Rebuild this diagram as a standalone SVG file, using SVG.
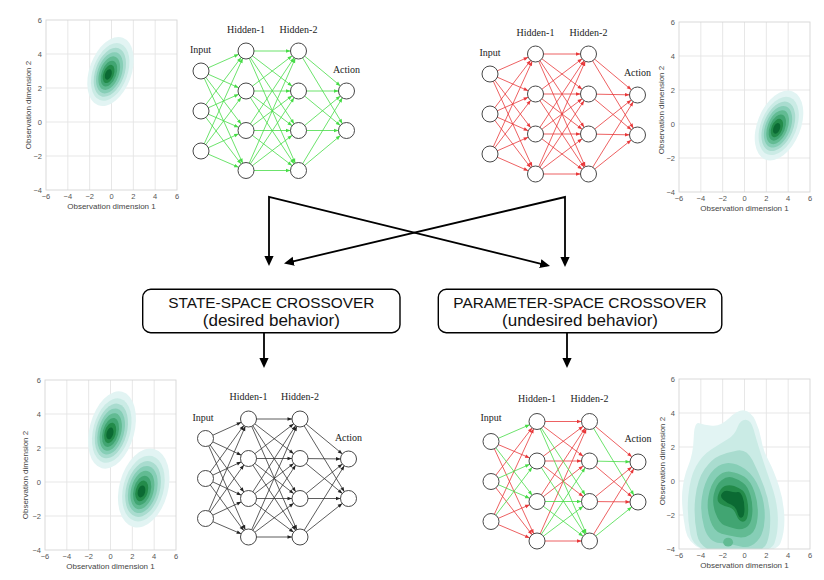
<svg xmlns="http://www.w3.org/2000/svg" xmlns:xlink="http://www.w3.org/1999/xlink" width="824" height="580" viewBox="0 0 824 580">
<style>
.tky{font-family:"Liberation Sans",Arial,sans-serif;font-size:7.5px;fill:#555;text-anchor:end}
.tkx{font-family:"Liberation Sans",Arial,sans-serif;font-size:7.5px;fill:#555;text-anchor:middle}
.ttl{font-family:"Liberation Sans",Arial,sans-serif;font-size:8px;fill:#444;text-anchor:middle}
.nl{font-family:"Liberation Serif","Times New Roman",serif;font-size:10px;fill:#222;text-anchor:middle}
.bx{fill:#fff;stroke:#000;stroke-width:1.4}
.bt1{font-family:"Liberation Sans",Arial,sans-serif;font-size:15.4px;text-anchor:middle;fill:#111}
.bt2{font-family:"Liberation Sans",Arial,sans-serif;font-size:17px;text-anchor:middle;fill:#111}
.grid line{stroke:#e4e4e4;stroke-width:.9}
.frame{fill:none;stroke:#d6d6d6;stroke-width:.9}
.eg line{stroke:#46dc46;stroke-width:.8;marker-end:url(#mg)}
.er line{stroke:#e8383a;stroke-width:.8;marker-end:url(#mr)}
.ek line{stroke:#333;stroke-width:.8;marker-end:url(#mk)}
.nd circle{fill:#fff;stroke:#333;stroke-width:.9}
.cn{fill:none;stroke:#000;stroke-width:1.8}
.l0{fill:#e2f4f3}.l1{fill:#caebe5}.l2{fill:#a9dccf}.l3{fill:#86ceb6}
.l4{fill:#62bb93}.l5{fill:#41a572}.l6{fill:#238b4a}.l7{fill:#0b6a33}
</style>
<defs>
<marker id="mg" viewBox="0 -3 14 6" markerWidth="14" markerHeight="6" refX="13" refY="0" orient="auto" markerUnits="userSpaceOnUse"><path d="M0.5,-1.8L5,0L0.5,1.8z" fill="#46dc46"/></marker>
<marker id="mr" viewBox="0 -3 14 6" markerWidth="14" markerHeight="6" refX="13" refY="0" orient="auto" markerUnits="userSpaceOnUse"><path d="M0.5,-1.8L5,0L0.5,1.8z" fill="#e8383a"/></marker>
<marker id="mk" viewBox="0 -3 14 6" markerWidth="14" markerHeight="6" refX="13" refY="0" orient="auto" markerUnits="userSpaceOnUse"><path d="M0.5,-1.8L5,0L0.5,1.8z" fill="#222"/></marker>
<marker id="ma" viewBox="0 -5 10 10" markerWidth="10" markerHeight="10" refX="7" refY="0" orient="auto-start-reverse" markerUnits="userSpaceOnUse"><path d="M0,-4.6L10,0L0,4.6z" fill="#000"/></marker>
<clipPath id="clipP"><rect width="131" height="170"/></clipPath>
<g id="grid" class="grid">
<rect width="131" height="170" fill="#fff"/>
<line x1="21.83" y1="0" x2="21.83" y2="170"/><line x1="43.67" y1="0" x2="43.67" y2="170"/><line x1="65.5" y1="0" x2="65.5" y2="170"/><line x1="87.33" y1="0" x2="87.33" y2="170"/><line x1="109.17" y1="0" x2="109.17" y2="170"/>
<line x1="0" y1="34" x2="131" y2="34"/><line x1="0" y1="68" x2="131" y2="68"/><line x1="0" y1="102" x2="131" y2="102"/><line x1="0" y1="136" x2="131" y2="136"/>
</g>
<ellipse id="k0" class="l0" cx="0" cy="0" rx="20" ry="36"/>
<ellipse id="k1" class="l1" cx="-0.1" cy="0.5" rx="16.5" ry="30"/>
<ellipse id="k2" class="l2" cx="-0.3" cy="1" rx="13.8" ry="25.5"/>
<ellipse id="k3" class="l3" cx="-0.4" cy="1.5" rx="11.5" ry="21.5"/>
<ellipse id="k4" class="l4" cx="-0.6" cy="2" rx="9.2" ry="17.5"/>
<ellipse id="k5" class="l5" cx="-0.7" cy="2.5" rx="7" ry="13.5"/>
<ellipse id="k6" class="l6" cx="-0.9" cy="3" rx="5" ry="9.5"/>
<ellipse id="k7" class="l7" cx="-1" cy="3.5" rx="3" ry="5.5"/>
<g id="kde"><use href="#k0"/><use href="#k1"/><use href="#k2"/><use href="#k3"/><use href="#k4"/><use href="#k5"/><use href="#k6"/><use href="#k7"/></g>
</defs>
<rect width="824" height="580" fill="#fff"/>

<!-- Top-left plot -->
<g id="plot-tl" transform="translate(46,20)">
<use href="#grid"/>
<use href="#kde" transform="translate(64.5,51.5) rotate(20) scale(1.05,1)"/>
<rect class="frame" width="131" height="170"/>
<text class="tky" x="-4" y="2.7">6</text><text class="tky" x="-4" y="36.7">4</text><text class="tky" x="-4" y="70.7">2</text><text class="tky" x="-4" y="104.7">0</text><text class="tky" x="-4" y="138.7">−2</text><text class="tky" x="-4" y="172.7">−4</text>
<text class="tkx" x="0" y="179">−6</text><text class="tkx" x="21.8" y="179">−4</text><text class="tkx" x="43.7" y="179">−2</text><text class="tkx" x="65.5" y="179">0</text><text class="tkx" x="87.3" y="179">2</text><text class="tkx" x="109.2" y="179">4</text><text class="tkx" x="131" y="179">6</text>
<text class="ttl" x="65.5" y="188.5">Observation dimension 1</text>
<text class="ttl" transform="translate(-15,85) rotate(-90)">Observation dimension 2</text>
</g>

<!-- Top-right plot -->
<g id="plot-tr" transform="translate(679,22)">
<use href="#grid"/>
<use href="#kde" transform="translate(100,103.5) rotate(22) scale(1.08,1.02)"/>
<rect class="frame" width="131" height="170"/>
<text class="tky" x="-4" y="2.7">6</text><text class="tky" x="-4" y="36.7">4</text><text class="tky" x="-4" y="70.7">2</text><text class="tky" x="-4" y="104.7">0</text><text class="tky" x="-4" y="138.7">−2</text><text class="tky" x="-4" y="172.7">−4</text>
<text class="tkx" x="0" y="179">−6</text><text class="tkx" x="21.8" y="179">−4</text><text class="tkx" x="43.7" y="179">−2</text><text class="tkx" x="65.5" y="179">0</text><text class="tkx" x="87.3" y="179">2</text><text class="tkx" x="109.2" y="179">4</text><text class="tkx" x="131" y="179">6</text>
<text class="ttl" x="65.5" y="188.5">Observation dimension 1</text>
<text class="ttl" transform="translate(-15,88) rotate(-90)">Observation dimension 2</text>
</g>

<!-- Bottom-left plot -->
<g id="plot-bl" transform="translate(45,380)">
<use href="#grid"/>
<use href="#k0" transform="translate(67,50) rotate(15) scale(1.12,1.1)"/><use href="#k0" transform="translate(98.7,108) rotate(15) scale(1.22,1.12)"/>
<use href="#k1" transform="translate(67,50) rotate(15) scale(1.12,1.1)"/><use href="#k1" transform="translate(98.7,108) rotate(15) scale(1.22,1.12)"/>
<use href="#k2" transform="translate(67,50) rotate(15) scale(1.12,1.1)"/><use href="#k2" transform="translate(98.7,108) rotate(15) scale(1.22,1.12)"/>
<use href="#k3" transform="translate(67,50) rotate(15) scale(1.12,1.1)"/><use href="#k3" transform="translate(98.7,108) rotate(15) scale(1.22,1.12)"/>
<use href="#k4" transform="translate(67,50) rotate(15) scale(1.12,1.1)"/><use href="#k4" transform="translate(98.7,108) rotate(15) scale(1.22,1.12)"/>
<use href="#k5" transform="translate(67,50) rotate(15) scale(1.12,1.1)"/><use href="#k5" transform="translate(98.7,108) rotate(15) scale(1.22,1.12)"/>
<use href="#k6" transform="translate(67,50) rotate(15) scale(1.12,1.1)"/><use href="#k6" transform="translate(98.7,108) rotate(15) scale(1.22,1.12)"/>
<use href="#k7" transform="translate(67,50) rotate(15) scale(1.12,1.1)"/><use href="#k7" transform="translate(98.7,108) rotate(15) scale(1.22,1.12)"/>
<rect class="frame" width="131" height="170"/>
<text class="tky" x="-4" y="2.7">6</text><text class="tky" x="-4" y="36.7">4</text><text class="tky" x="-4" y="70.7">2</text><text class="tky" x="-4" y="104.7">0</text><text class="tky" x="-4" y="138.7">−2</text><text class="tky" x="-4" y="172.7">−4</text>
<text class="tkx" x="0" y="179">−6</text><text class="tkx" x="21.8" y="179">−4</text><text class="tkx" x="43.7" y="179">−2</text><text class="tkx" x="65.5" y="179">0</text><text class="tkx" x="87.3" y="179">2</text><text class="tkx" x="109.2" y="179">4</text><text class="tkx" x="131" y="179">6</text>
<text class="ttl" x="65.5" y="189">Observation dimension 1</text>
<text class="ttl" transform="translate(-17,95) rotate(-90)">Observation dimension 2</text>
</g>

<!-- Bottom-right plot -->
<g id="plot-br" transform="translate(679,379)">
<use href="#grid"/>
<g clip-path="url(#clipP)">
<g transform="translate(65.5,102) scale(10.92,-17)">
<path class="l0" d="M-1.05,-4.3Q-5,-4.3 -5.4,-2.9Q-5.8,-1.5 -5.7,-0.65Q-5.6,0.2 -5.15,0.9Q-4.7,1.6 -4.65,2.55Q-4.6,3.5 -4.15,3.4Q-3.7,3.3 -2.95,3.25Q-2.2,3.2 -1.4,3.7Q-0.6,4.2 0,4.15Q0.6,4.1 1,3.55Q1.4,3 1.55,2.4Q1.7,1.8 2.2,1.2Q2.7,0.6 3.15,-0.3Q3.6,-1.2 3.65,-2.1Q3.7,-3 3.3,-3.65Q2.9,-4.3 -1.05,-4.3Z"/>
<path class="l1" d="M-1.1,-4.3Q-4.6,-4.3 -4.95,-3.15Q-5.3,-2 -5.15,-0.9Q-5,0.2 -4.45,0.85Q-3.9,1.5 -3.05,1.85Q-2.2,2.2 -1.55,2.45Q-0.9,2.7 -0.65,3.15Q-0.4,3.6 0.1,3.6Q0.6,3.6 0.85,3Q1.1,2.4 1.5,1.6Q1.9,0.8 2.45,-0.2Q3,-1.2 3.05,-2.1Q3.1,-3 2.75,-3.65Q2.4,-4.3 -1.1,-4.3Z"/>
<path class="l2" d="M-1.15,-4.3Q-4,-4.3 -4.35,-3.15Q-4.7,-2 -4.5,-0.95Q-4.3,0.1 -3.65,0.7Q-3,1.3 -2.25,1.5Q-1.5,1.7 -0.65,1.8Q0.2,1.9 0.75,1.2Q1.3,0.5 1.8,-0.35Q2.3,-1.2 2.35,-2.1Q2.4,-3 2.05,-3.65Q1.7,-4.3 -1.15,-4.3Z"/>
<path class="l3" d="M-2.25,-3.65Q-3.3,-3.6 -3.7,-2.7Q-4.1,-1.8 -3.9,-0.95Q-3.7,-0.1 -3.1,0.45Q-2.5,1 -1.65,1.05Q-0.8,1.1 0.05,0.7Q0.9,0.3 1.4,-0.5Q1.9,-1.3 1.85,-2.2Q1.8,-3.1 1.15,-3.55Q0.5,-4 -0.35,-3.85Q-1.2,-3.7 -2.25,-3.65Z"/>
<ellipse class="l4" cx="-1.5" cy="-3.6" rx="0.45" ry="0.26"/>
<path class="l4" d="M-2.1,-3.1Q-2.8,-3 -3.15,-2.3Q-3.5,-1.6 -3.3,-0.9Q-3.1,-0.2 -2.55,0.2Q-2,0.6 -1.3,0.55Q-0.6,0.5 0,0.25Q0.6,0 0.95,-0.7Q1.3,-1.4 1.2,-2.15Q1.1,-2.9 0.55,-3.15Q0,-3.4 -0.7,-3.3Q-1.4,-3.2 -2.1,-3.1Z"/>
<path class="l5" d="M-1.85,-2.6Q-2.3,-2.5 -2.65,-1.9Q-3,-1.3 -2.8,-0.75Q-2.6,-0.2 -2.1,0.05Q-1.6,0.3 -1.1,0.2Q-0.6,0.1 -0.15,-0.1Q0.3,-0.3 0.55,-0.85Q0.8,-1.4 0.7,-2Q0.6,-2.6 0.1,-2.75Q-0.4,-2.9 -0.9,-2.8Q-1.4,-2.7 -1.85,-2.6Z"/>
<path class="l6" d="M-2.2,-1.35Q-2.6,-1.2 -2.4,-0.8Q-2.2,-0.4 -1.8,-0.3Q-1.4,-0.2 -0.95,-0.3Q-0.5,-0.4 -0.2,-0.55Q0.1,-0.7 0.25,-1.15Q0.4,-1.6 0.3,-2Q0.2,-2.4 -0.15,-2.4Q-0.5,-2.4 -0.75,-2Q-1,-1.6 -1.4,-1.55Q-1.8,-1.5 -2.2,-1.35Z"/>
<path class="l7" d="M-1.95,-1.1Q-2.3,-0.9 -2.05,-0.7Q-1.8,-0.5 -1.35,-0.6Q-0.9,-0.7 -0.65,-0.65Q-0.4,-0.6 -0.2,-0.9Q0,-1.2 0,-1.65Q0,-2.1 -0.25,-2.15Q-0.5,-2.2 -0.65,-1.85Q-0.8,-1.5 -1.2,-1.4Q-1.6,-1.3 -1.95,-1.1Z"/>
</g>
</g>
<rect class="frame" width="131" height="170"/>
<text class="tky" x="-4" y="2.7">6</text><text class="tky" x="-4" y="36.7">4</text><text class="tky" x="-4" y="70.7">2</text><text class="tky" x="-4" y="104.7">0</text><text class="tky" x="-4" y="138.7">−2</text><text class="tky" x="-4" y="172.7">−4</text>
<text class="tkx" x="0" y="179">−6</text><text class="tkx" x="21.8" y="179">−4</text><text class="tkx" x="43.7" y="179">−2</text><text class="tkx" x="65.5" y="179">0</text><text class="tkx" x="87.3" y="179">2</text><text class="tkx" x="109.2" y="179">4</text><text class="tkx" x="131" y="179">6</text>
<text class="ttl" x="65.5" y="189">Observation dimension 1</text>
<text class="ttl" transform="translate(-14.5,82) rotate(-90)">Observation dimension 2</text>
</g>

<!-- Top-left network (green) -->
<g id="net-tl">
<text class="nl" x="200.5" y="53">Input</text><text class="nl" x="246" y="32.5">Hidden-1</text><text class="nl" x="298.5" y="32.5">Hidden-2</text><text class="nl" x="346.5" y="73">Action</text>
<g class="eg">
<line x1="201" y1="71" x2="246" y2="51"/><line x1="201" y1="71" x2="246" y2="91"/><line x1="201" y1="71" x2="246" y2="130.5"/><line x1="201" y1="71" x2="246" y2="170.5"/>
<line x1="201" y1="111" x2="246" y2="51"/><line x1="201" y1="111" x2="246" y2="91"/><line x1="201" y1="111" x2="246" y2="130.5"/><line x1="201" y1="111" x2="246" y2="170.5"/>
<line x1="201" y1="151" x2="246" y2="51"/><line x1="201" y1="151" x2="246" y2="91"/><line x1="201" y1="151" x2="246" y2="130.5"/><line x1="201" y1="151" x2="246" y2="170.5"/>
<line x1="246" y1="51" x2="298.5" y2="51"/><line x1="246" y1="51" x2="298.5" y2="91"/><line x1="246" y1="51" x2="298.5" y2="130.5"/><line x1="246" y1="51" x2="298.5" y2="170.5"/>
<line x1="246" y1="91" x2="298.5" y2="51"/><line x1="246" y1="91" x2="298.5" y2="91"/><line x1="246" y1="91" x2="298.5" y2="130.5"/><line x1="246" y1="91" x2="298.5" y2="170.5"/>
<line x1="246" y1="130.5" x2="298.5" y2="51"/><line x1="246" y1="130.5" x2="298.5" y2="91"/><line x1="246" y1="130.5" x2="298.5" y2="130.5"/><line x1="246" y1="130.5" x2="298.5" y2="170.5"/>
<line x1="246" y1="170.5" x2="298.5" y2="51"/><line x1="246" y1="170.5" x2="298.5" y2="91"/><line x1="246" y1="170.5" x2="298.5" y2="130.5"/><line x1="246" y1="170.5" x2="298.5" y2="170.5"/>
<line x1="298.5" y1="51" x2="346.5" y2="91"/><line x1="298.5" y1="51" x2="346.5" y2="130.5"/>
<line x1="298.5" y1="91" x2="346.5" y2="91"/><line x1="298.5" y1="91" x2="346.5" y2="130.5"/>
<line x1="298.5" y1="130.5" x2="346.5" y2="91"/><line x1="298.5" y1="130.5" x2="346.5" y2="130.5"/>
<line x1="298.5" y1="170.5" x2="346.5" y2="91"/><line x1="298.5" y1="170.5" x2="346.5" y2="130.5"/>
</g>
<g class="nd">
<circle cx="201" cy="71" r="8"/><circle cx="201" cy="111" r="8"/><circle cx="201" cy="151" r="8"/>
<circle cx="246" cy="51" r="8"/><circle cx="246" cy="91" r="8"/><circle cx="246" cy="130.5" r="8"/><circle cx="246" cy="170.5" r="8"/>
<circle cx="298.5" cy="51" r="8"/><circle cx="298.5" cy="91" r="8"/><circle cx="298.5" cy="130.5" r="8"/><circle cx="298.5" cy="170.5" r="8"/>
<circle cx="346.5" cy="91" r="8"/><circle cx="346.5" cy="130.5" r="8"/>
</g>
</g>

<!-- Top-right network (red) -->
<g id="net-tr">
<text class="nl" x="490" y="55.5">Input</text><text class="nl" x="535.5" y="35.5">Hidden-1</text><text class="nl" x="588.5" y="35.5">Hidden-2</text><text class="nl" x="637.5" y="75.5">Action</text>
<g class="er">
<line x1="490" y1="74" x2="535.5" y2="54"/><line x1="490" y1="74" x2="535.5" y2="94"/><line x1="490" y1="74" x2="535.5" y2="134"/><line x1="490" y1="74" x2="535.5" y2="174"/>
<line x1="490" y1="114" x2="535.5" y2="54"/><line x1="490" y1="114" x2="535.5" y2="94"/><line x1="490" y1="114" x2="535.5" y2="134"/><line x1="490" y1="114" x2="535.5" y2="174"/>
<line x1="490" y1="154" x2="535.5" y2="54"/><line x1="490" y1="154" x2="535.5" y2="94"/><line x1="490" y1="154" x2="535.5" y2="134"/><line x1="490" y1="154" x2="535.5" y2="174"/>
<line x1="535.5" y1="54" x2="588.5" y2="54"/><line x1="535.5" y1="54" x2="588.5" y2="94"/><line x1="535.5" y1="54" x2="588.5" y2="134"/><line x1="535.5" y1="54" x2="588.5" y2="174"/>
<line x1="535.5" y1="94" x2="588.5" y2="54"/><line x1="535.5" y1="94" x2="588.5" y2="94"/><line x1="535.5" y1="94" x2="588.5" y2="134"/><line x1="535.5" y1="94" x2="588.5" y2="174"/>
<line x1="535.5" y1="134" x2="588.5" y2="54"/><line x1="535.5" y1="134" x2="588.5" y2="94"/><line x1="535.5" y1="134" x2="588.5" y2="134"/><line x1="535.5" y1="134" x2="588.5" y2="174"/>
<line x1="535.5" y1="174" x2="588.5" y2="54"/><line x1="535.5" y1="174" x2="588.5" y2="94"/><line x1="535.5" y1="174" x2="588.5" y2="134"/><line x1="535.5" y1="174" x2="588.5" y2="174"/>
<line x1="588.5" y1="54" x2="637.5" y2="95"/><line x1="588.5" y1="54" x2="637.5" y2="135"/>
<line x1="588.5" y1="94" x2="637.5" y2="95"/><line x1="588.5" y1="94" x2="637.5" y2="135"/>
<line x1="588.5" y1="134" x2="637.5" y2="95"/><line x1="588.5" y1="134" x2="637.5" y2="135"/>
<line x1="588.5" y1="174" x2="637.5" y2="95"/><line x1="588.5" y1="174" x2="637.5" y2="135"/>
</g>
<g class="nd">
<circle cx="490" cy="74" r="8"/><circle cx="490" cy="114" r="8"/><circle cx="490" cy="154" r="8"/>
<circle cx="535.5" cy="54" r="8"/><circle cx="535.5" cy="94" r="8"/><circle cx="535.5" cy="134" r="8"/><circle cx="535.5" cy="174" r="8"/>
<circle cx="588.5" cy="54" r="8"/><circle cx="588.5" cy="94" r="8"/><circle cx="588.5" cy="134" r="8"/><circle cx="588.5" cy="174" r="8"/>
<circle cx="637.5" cy="95" r="8"/><circle cx="637.5" cy="135" r="8"/>
</g>
</g>

<!-- Bottom-left network (black) -->
<g id="net-bl">
<text class="nl" x="203" y="421">Input</text><text class="nl" x="248.5" y="400">Hidden-1</text><text class="nl" x="300" y="400">Hidden-2</text><text class="nl" x="348.5" y="441">Action</text>
<g class="ek">
<line x1="205.5" y1="438.5" x2="248.5" y2="419"/><line x1="205.5" y1="438.5" x2="248.5" y2="458.5"/><line x1="205.5" y1="438.5" x2="248.5" y2="498.5"/><line x1="205.5" y1="438.5" x2="248.5" y2="537"/>
<line x1="205.5" y1="478.5" x2="248.5" y2="419"/><line x1="205.5" y1="478.5" x2="248.5" y2="458.5"/><line x1="205.5" y1="478.5" x2="248.5" y2="498.5"/><line x1="205.5" y1="478.5" x2="248.5" y2="537"/>
<line x1="205.5" y1="518.5" x2="248.5" y2="419"/><line x1="205.5" y1="518.5" x2="248.5" y2="458.5"/><line x1="205.5" y1="518.5" x2="248.5" y2="498.5"/><line x1="205.5" y1="518.5" x2="248.5" y2="537"/>
<line x1="248.5" y1="419" x2="300" y2="419"/><line x1="248.5" y1="419" x2="300" y2="458.5"/><line x1="248.5" y1="419" x2="300" y2="498.5"/><line x1="248.5" y1="419" x2="300" y2="537"/>
<line x1="248.5" y1="458.5" x2="300" y2="419"/><line x1="248.5" y1="458.5" x2="300" y2="458.5"/><line x1="248.5" y1="458.5" x2="300" y2="498.5"/><line x1="248.5" y1="458.5" x2="300" y2="537"/>
<line x1="248.5" y1="498.5" x2="300" y2="419"/><line x1="248.5" y1="498.5" x2="300" y2="458.5"/><line x1="248.5" y1="498.5" x2="300" y2="498.5"/><line x1="248.5" y1="498.5" x2="300" y2="537"/>
<line x1="248.5" y1="537" x2="300" y2="419"/><line x1="248.5" y1="537" x2="300" y2="458.5"/><line x1="248.5" y1="537" x2="300" y2="498.5"/><line x1="248.5" y1="537" x2="300" y2="537"/>
<line x1="300" y1="419" x2="348.5" y2="459"/><line x1="300" y1="419" x2="348.5" y2="498.5"/>
<line x1="300" y1="458.5" x2="348.5" y2="459"/><line x1="300" y1="458.5" x2="348.5" y2="498.5"/>
<line x1="300" y1="498.5" x2="348.5" y2="459"/><line x1="300" y1="498.5" x2="348.5" y2="498.5"/>
<line x1="300" y1="537" x2="348.5" y2="459"/><line x1="300" y1="537" x2="348.5" y2="498.5"/>
</g>
<g class="nd">
<circle cx="205.5" cy="438.5" r="8"/><circle cx="205.5" cy="478.5" r="8"/><circle cx="205.5" cy="518.5" r="8"/>
<circle cx="248.5" cy="419" r="8"/><circle cx="248.5" cy="458.5" r="8"/><circle cx="248.5" cy="498.5" r="8"/><circle cx="248.5" cy="537" r="8"/>
<circle cx="300" cy="419" r="8"/><circle cx="300" cy="458.5" r="8"/><circle cx="300" cy="498.5" r="8"/><circle cx="300" cy="537" r="8"/>
<circle cx="348.5" cy="459" r="8"/><circle cx="348.5" cy="498.5" r="8"/>
</g>
</g>

<!-- Bottom-right network (mixed) -->
<g id="net-br">
<text class="nl" x="491" y="421">Input</text><text class="nl" x="537" y="402">Hidden-1</text><text class="nl" x="589.5" y="402">Hidden-2</text><text class="nl" x="638" y="442">Action</text>
<g class="er">
<line x1="491" y1="441.5" x2="537" y2="461"/><line x1="491" y1="441.5" x2="537" y2="541"/>
<line x1="491" y1="481.5" x2="537" y2="421.5"/><line x1="491" y1="481.5" x2="537" y2="541"/>
<line x1="491" y1="521.5" x2="537" y2="421.5"/><line x1="491" y1="521.5" x2="537" y2="501.5"/><line x1="491" y1="521.5" x2="537" y2="541"/>
<line x1="537" y1="421.5" x2="589.5" y2="421.5"/><line x1="537" y1="421.5" x2="589.5" y2="461"/>
<line x1="537" y1="461" x2="589.5" y2="421.5"/><line x1="537" y1="461" x2="589.5" y2="461"/><line x1="537" y1="461" x2="589.5" y2="501.5"/>
<line x1="537" y1="501.5" x2="589.5" y2="421.5"/><line x1="537" y1="501.5" x2="589.5" y2="461"/>
<line x1="537" y1="541" x2="589.5" y2="421.5"/><line x1="537" y1="541" x2="589.5" y2="541"/>
<line x1="589.5" y1="421.5" x2="638" y2="462"/>
<line x1="589.5" y1="461" x2="638" y2="502"/>
<line x1="589.5" y1="501.5" x2="638" y2="462"/><line x1="589.5" y1="501.5" x2="638" y2="502"/>
<line x1="589.5" y1="541" x2="638" y2="462"/>
</g>
<g class="eg">
<line x1="491" y1="441.5" x2="537" y2="421.5"/><line x1="491" y1="441.5" x2="537" y2="501.5"/>
<line x1="491" y1="481.5" x2="537" y2="461"/><line x1="491" y1="481.5" x2="537" y2="501.5"/>
<line x1="491" y1="521.5" x2="537" y2="461"/>
<line x1="537" y1="421.5" x2="589.5" y2="501.5"/><line x1="537" y1="421.5" x2="589.5" y2="541"/>
<line x1="537" y1="461" x2="589.5" y2="541"/>
<line x1="537" y1="501.5" x2="589.5" y2="501.5"/><line x1="537" y1="501.5" x2="589.5" y2="541"/>
<line x1="537" y1="541" x2="589.5" y2="461"/><line x1="537" y1="541" x2="589.5" y2="501.5"/>
<line x1="589.5" y1="421.5" x2="638" y2="502"/>
<line x1="589.5" y1="461" x2="638" y2="462"/>
<line x1="589.5" y1="541" x2="638" y2="502"/>
</g>
<g class="nd">
<circle cx="491" cy="441.5" r="8"/><circle cx="491" cy="481.5" r="8"/><circle cx="491" cy="521.5" r="8"/>
<circle cx="537" cy="421.5" r="8"/><circle cx="537" cy="461" r="8"/><circle cx="537" cy="501.5" r="8"/><circle cx="537" cy="541" r="8"/>
<circle cx="589.5" cy="421.5" r="8"/><circle cx="589.5" cy="461" r="8"/><circle cx="589.5" cy="501.5" r="8"/><circle cx="589.5" cy="541" r="8"/>
<circle cx="638" cy="462" r="8"/><circle cx="638" cy="502" r="8"/>
</g>
</g>

<!-- Connectors -->
<g id="connectors">
<path class="cn" d="M269,263L269,197L547.1,265.3" marker-start="url(#ma)" marker-end="url(#ma)"/>
<path class="cn" d="M565,264L565,197L286.9,262.8" marker-start="url(#ma)" marker-end="url(#ma)"/>
<path class="cn" d="M264,333L264,365" marker-end="url(#ma)"/>
<path class="cn" d="M567,333L567,365" marker-end="url(#ma)"/>
</g>

<!-- Boxes -->
<g id="box-state">
<rect class="bx" x="142.7" y="289.3" width="257.3" height="43.4" rx="8"/>
<text class="bt1" x="271.3" y="307.5">STATE-SPACE CROSSOVER</text>
<text class="bt2" x="271.3" y="325.5">(desired behavior)</text>
</g>
<g id="box-param">
<rect class="bx" x="438.3" y="289.3" width="283.5" height="43.4" rx="8"/>
<text class="bt1" x="580" y="307.5">PARAMETER-SPACE CROSSOVER</text>
<text class="bt2" x="580" y="325.5">(undesired behavior)</text>
</g>
</svg>
